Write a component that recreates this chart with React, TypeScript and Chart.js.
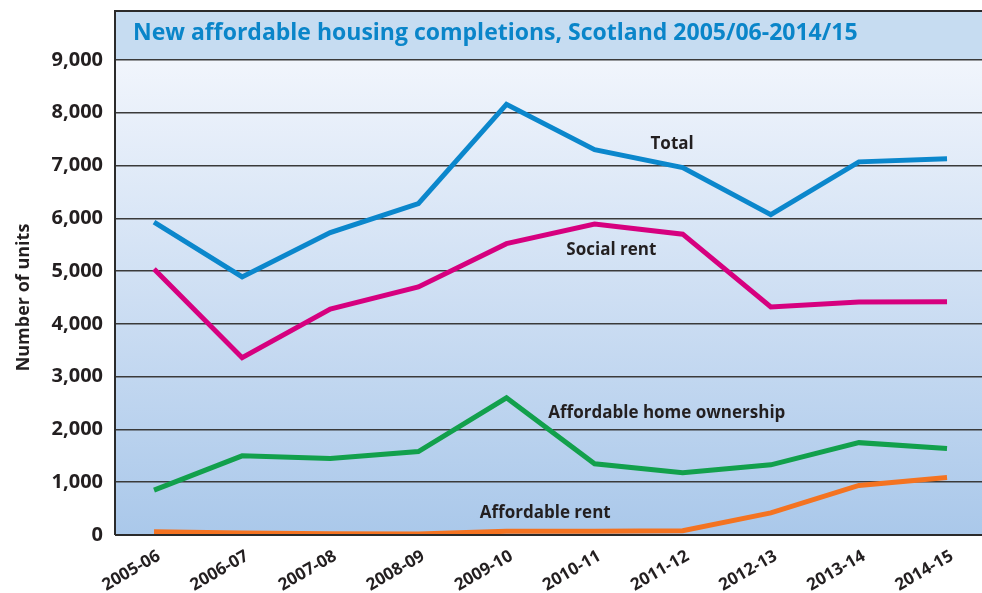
import { useEffect, useRef } from 'react';
import { Chart, registerables } from 'chart.js';

Chart.register(...registerables);

const categories = ['2005-06', '2006-07', '2007-08', '2008-09', '2009-10', '2010-11', '2011-12', '2012-13', '2013-14', '2014-15'];
const total = [5930, 4890, 5730, 6280, 8160, 7300, 6960, 6070, 7070, 7130];
const socialRent = [5040, 3360, 4280, 4700, 5520, 5890, 5700, 4320, 4415, 4420];
const homeOwnership = [850, 1500, 1450, 1580, 2600, 1350, 1180, 1330, 1750, 1640];
const affordableRent = [60, 40, 25, 20, 70, 70, 80, 420, 940, 1090];
const yTicks = [0, 1000, 2000, 3000, 4000, 5000, 6000, 7000, 8000, 9000];
const seriesNames = ['Total', 'Social rent', 'Affordable home ownership', 'Affordable rent'];
const labelX = [5.88, 5.19, 5.82, 4.44];
const labelY = [7410, 5400, 2312, 417];
const titleText = 'New affordable housing completions, Scotland 2005/06-2014/15';

const FONT = '"Open Sans", "DejaVu Sans", sans-serif';

const frame = {
  id: 'frame',
  beforeDraw(chart: any) {
    const { ctx, chartArea } = chart;
    const { left, right, top, bottom } = chartArea;
    ctx.save();
    ctx.fillStyle = '#c6dcf1';
    ctx.fillRect(left, 11, right - left, top - 11);
    const g = ctx.createLinearGradient(0, top, 0, bottom);
    g.addColorStop(0, '#f1f5fc');
    g.addColorStop(1, '#aac8ea');
    ctx.fillStyle = g;
    ctx.fillRect(left, top, right - left, bottom - top);
    ctx.restore();
  },
  afterDatasetsDraw(chart: any) {
    const { ctx, chartArea, scales } = chart;
    const { left, right, bottom } = chartArea;
    ctx.save();
    ctx.strokeStyle = '#2b2b2b';
    ctx.lineWidth = 2;
    ctx.beginPath();
    ctx.moveTo(left, bottom);
    ctx.lineTo(left, 11);
    ctx.lineTo(right + 2, 11);
    ctx.stroke();
    ctx.beginPath();
    ctx.moveTo(left, bottom);
    ctx.lineTo(right, bottom);
    ctx.stroke();
    ctx.fillStyle = '#0a85c9';
    ctx.font = `bold 23px ${FONT}`;
    ctx.textBaseline = 'middle';
    ctx.textAlign = 'left';
    ctx.fillText(titleText, 133, 33);
    ctx.fillStyle = '#231f20';
    ctx.font = `bold 17px ${FONT}`;
    ctx.textAlign = 'center';
    seriesNames.forEach((name, i) => {
      ctx.fillText(name, scales.x.getPixelForValue(labelX[i]), scales.y.getPixelForValue(labelY[i]));
    });
    ctx.restore();
  },
};

export default function App() {
  const ref = useRef<HTMLCanvasElement | null>(null);
  useEffect(() => {
    if (!ref.current) return;
    const mk = (arr: number[]) => arr.map((v, i) => ({ x: i, y: v }));
    const chart = new Chart(ref.current, {
      type: 'line',
      data: {
        datasets: [
          { label: seriesNames[3], data: mk(affordableRent), borderColor: '#f47321' },
          { label: seriesNames[2], data: mk(homeOwnership), borderColor: '#12a04c' },
          { label: seriesNames[1], data: mk(socialRent), borderColor: '#d6007f' },
          { label: seriesNames[0], data: mk(total), borderColor: '#0b87cc' },
        ].map((d) => ({ ...d, borderWidth: 5, pointRadius: 0, tension: 0, fill: false })),
      },
      options: {
        animation: false,
        responsive: true,
        maintainAspectRatio: false,
        layout: { padding: { top: 60, right: 0, left: 0, bottom: 0 } },
        plugins: { legend: { display: false }, tooltip: { enabled: false } },
        scales: {
          x: {
            type: 'linear',
            min: -0.443,
            max: 9.397,
            afterBuildTicks: (s: any) => {
              s.ticks = categories.map((_, i) => ({ value: i }));
            },
            afterFit: (s: any) => {
              s.height = 58;
            },
            grid: { display: false },
            border: { display: false },
            ticks: {
              autoSkip: false,
              minRotation: 30,
              maxRotation: 30,
              padding: 3,
              labelOffset: 5,
              color: '#231f20',
              font: { family: FONT, weight: 'bold', size: 17 },
              callback: (v: any) => categories[v] ?? '',
            },
          },
          y: {
            min: 0,
            max: 9000,
            afterBuildTicks: (s: any) => {
              s.ticks = yTicks.map((v) => ({ value: v }));
            },
            afterFit: (s: any) => {
              s.width = 115;
            },
            grid: { color: '#3a3a3a', lineWidth: 1.5, drawTicks: false },
            border: { display: false },
            ticks: {
              padding: 12,
              color: '#231f20',
              font: { family: FONT, weight: 'bold', size: 20 },
              callback: (v: any) => Number(v).toLocaleString('en-US'),
            },
            title: {
              display: true,
              text: 'Number of units',
              color: '#231f20',
              font: { family: FONT, weight: 'bold', size: 18 },
              padding: { top: 13, bottom: 0 },
            },
          },
        },
      },
      plugins: [frame],
    } as any);
    return () => chart.destroy();
  }, []);
  return (
    <div style={{ position: 'fixed', left: 0, top: 0, width: 982, height: 593 }}>
      <canvas ref={ref} />
    </div>
  );
}
